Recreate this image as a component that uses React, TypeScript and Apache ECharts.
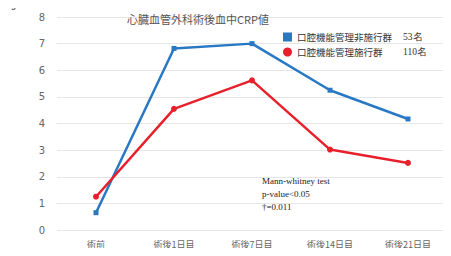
import React, { useEffect, useRef } from "react";
import * as echarts from "echarts";

const categories = ["術前", "術後1日目", "術後7日目", "術後14日目", "術後21日目"];
const nonGroup = [0.65, 6.82, 7.0, 5.25, 4.17];
const group = [1.25, 4.55, 5.62, 3.02, 2.52];
const seriesNames = ["口腔機能管理非施行群", "口腔機能管理施行群"];
const counts = ["53名", "110名"];
const yTicks = [0, 8, 1];

export default function App() {
  const ref = useRef<HTMLDivElement>(null);
  useEffect(() => {
    const chart = echarts.init(ref.current!, null, { renderer: "svg" });
    chart.setOption({
      animation: false,
      backgroundColor: "#fff",
      title: {
        text: "心臓血管外科術後血中CRP値",
        left: 122,
        top: 8,
        textStyle: { fontSize: 11, fontWeight: "normal", color: "#555", fontFamily: "Noto Sans CJK JP" },
      },
      graphic: [
        {
          type: "text",
          left: 4,
          top: 1,
          style: { text: "mg/dL", fontSize: 8, fill: "#555", fontFamily: "Liberation Sans", fontWeight: "bold" },
        },
        {
          type: "text",
          left: 262,
          top: 174,
          style: {
            text: "Mann-whitney test\np-value<0.05\n†=0.011",
            fontSize: 9,
            lineHeight: 13,
            fill: "#222",
            fontFamily: "Liberation Serif",
          },
        },
      ],
      legend: {
        orient: "vertical",
        left: 278,
        top: 27,
        itemWidth: 9,
        itemHeight: 9,
        itemGap: 5,
        data: [
          { name: seriesNames[0], icon: "rect" },
          { name: seriesNames[1], icon: "circle" },
        ],
        formatter: (name: string) => {
          const i = seriesNames.indexOf(name);
          return `{a|${name}}{b|${counts[i]}}`;
        },
        textStyle: {
          rich: {
            a: { width: 106, fontSize: 9.5, color: "#333", fontFamily: "Noto Sans CJK JP" },
            b: { fontSize: 9.5, color: "#333", fontFamily: "Liberation Serif" },
          },
        },
      },
      grid: { left: 57, right: 4, top: 17, bottom: 26, containLabel: false },
      xAxis: {
        type: "category",
        data: categories,
        axisLine: { show: false },
        axisTick: { show: false },
        axisLabel: { fontSize: 9, color: "#666", margin: 10, fontFamily: "Noto Sans CJK JP" },
      },
      yAxis: {
        type: "value",
        min: yTicks[0],
        max: yTicks[1],
        interval: yTicks[2],
        axisLine: { show: false },
        axisTick: { show: false },
        axisLabel: { fontSize: 10, color: "#666", margin: 12, fontFamily: "DejaVu Sans", showMaxLabel: true, hideOverlap: false },
        splitLine: { lineStyle: { color: "#e6e6e6" } },
      },
      series: [
        {
          name: seriesNames[0],
          type: "line",
          data: nonGroup,
          symbol: "rect",
          symbolSize: 5,
          itemStyle: { color: "#2878c4" },
          lineStyle: { color: "#2878c4", width: 2.5 },
        },
        {
          name: seriesNames[1],
          type: "line",
          data: group,
          symbol: "circle",
          symbolSize: 6,
          itemStyle: { color: "#e8202c" },
          lineStyle: { color: "#e8202c", width: 2.5 },
        },
      ],
    });
    return () => chart.dispose();
  }, []);
  return <div ref={ref} style={{ width: 451, height: 256, margin: -8 }} />;
}
